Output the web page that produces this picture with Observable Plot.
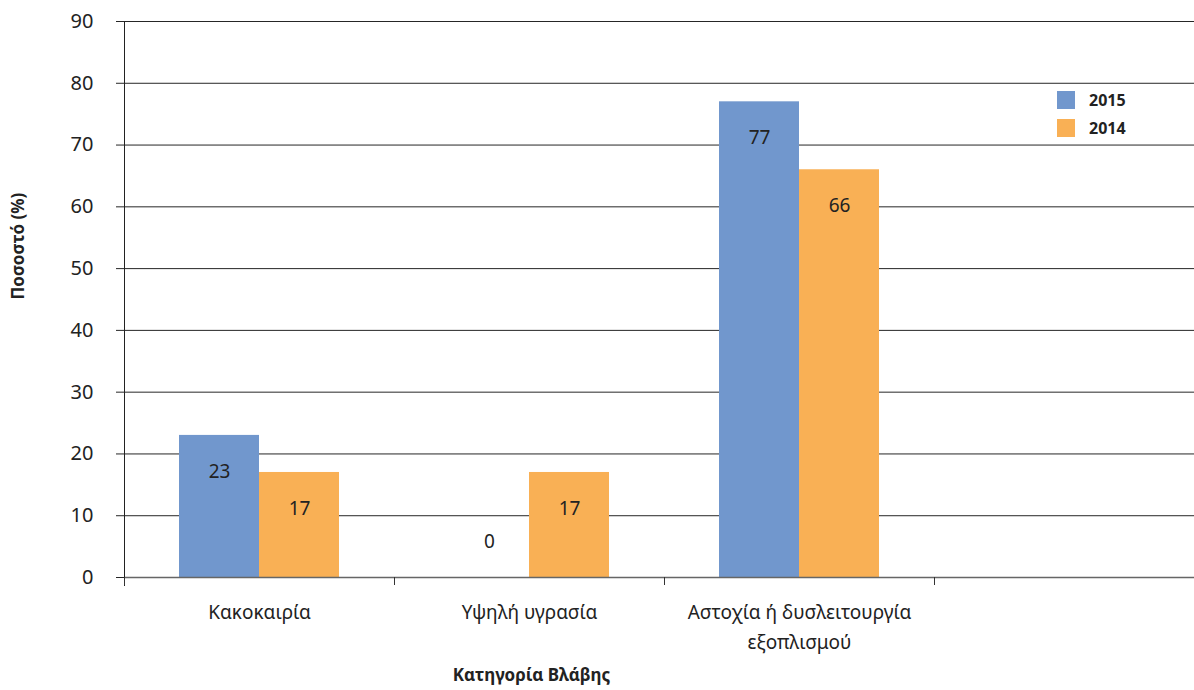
<!DOCTYPE html>
<html>
<head>
<meta charset="utf-8">
<script src="https://cdn.jsdelivr.net/npm/d3@7"></script>
<script src="https://cdn.jsdelivr.net/npm/@observablehq/plot@0.6"></script>
<style>
  html, body { margin: 0; padding: 0; background: #fff; }
  #wrap { position: relative; width: 1194px; height: 690px; font-family: "Noto Sans", sans-serif; }
  #legend { position: absolute; left: 1057px; top: 91px; font-weight: bold; font-size: 16px; color: #222; }
  #legend .item { display: flex; align-items: center; height: 18px; margin-bottom: 10px; }
  #legend .sw { width: 18px; height: 18px; margin-right: 14px; }
</style>
</head>
<body>
<div id="wrap"><div id="legend"></div></div>
<script>
const categories = ["Κακοκαιρία", "Υψηλή υγρασία", "Αστοχία ή δυσλειτουργία\nεξοπλισμού", ""];
const series = ["2015", "2014"];
const values2015 = [23, 0, 77];
const values2014 = [17, 17, 66];
const yTicks = [0, 10, 20, 30, 40, 50, 60, 70, 80, 90];
const colors = ["#7197CD", "#F9B055"];

const rows = [];
values2015.forEach((v, i) => rows.push({category: categories[i], series: "2015", value: v}));
values2014.forEach((v, i) => rows.push({category: categories[i], series: "2014", value: v}));

const W = 1194, H = 690;
const font = "Noto Sans, sans-serif";

const r15 = rows.filter(d => d.series === "2015");
const r14 = rows.filter(d => d.series === "2014");

const chart = Plot.plot({
  width: W,
  height: H,
  marginLeft: 124,
  marginRight: 0,
  marginTop: 21,
  marginBottom: 113,
  style: {fontFamily: font, background: "#fff", overflow: "visible"},
  x: {type: "band", domain: categories, range: [124, 1204], padding: 0},
  y: {domain: [0, 90]},
  marks: [
    Plot.ruleY(yTicks.filter(t => t > 0), {stroke: "#262626", strokeWidth: 1}),
    Plot.axisY({ticks: yTicks, tickSize: 8, tickPadding: 23, fontSize: 20, stroke: "#262626", fill: "#222", label: null}),
    Plot.barY(r15, {x: "category", y: "value", fill: colors[0], insetLeft: 55, insetRight: 135}),
    Plot.barY(r14, {x: "category", y: "value", fill: colors[1], insetLeft: 135, insetRight: 55}),
    Plot.ruleY([0], {stroke: "#666", strokeWidth: 1.5}),
    Plot.frame({anchor: "left", stroke: "#222", insetBottom: -8}),
    Plot.axisX({ticks: categories, tickSize: 8, dx: -135, text: null, stroke: "#333", label: null}),
    Plot.axisX({ticks: categories, tickSize: 0, tickPadding: 20, fontSize: 19, fill: "#222", lineHeight: 1.58, label: null}),
    Plot.text(r15.filter(d => d.value > 0), {x: "category", y: "value", text: d => String(d.value), dx: -40, dy: 36, fontSize: 19, fill: "#222"}),
    Plot.text(r14.filter(d => d.value > 0), {x: "category", y: "value", text: d => String(d.value), dx: 40, dy: 36, fontSize: 19, fill: "#222"}),
    Plot.text(r15.filter(d => d.value === 0), {x: "category", y: "value", text: d => String(d.value), dx: -40, dy: -36, fontSize: 19, fill: "#222"}),
    Plot.text(r14.filter(d => d.value === 0), {x: "category", y: "value", text: d => String(d.value), dx: 40, dy: -36, fontSize: 19, fill: "#222"}),
    Plot.text(["Ποσοστό (%)"], {frameAnchor: "left", text: d => d, rotate: -90, dx: -106, fontSize: 17, fontWeight: "bold", fill: "#222"}),
    Plot.text(["Κατηγορία Βλάβης"], {frameAnchor: "bottom", text: d => d, dx: -128, dy: 103, fontSize: 17, fontWeight: "bold", fill: "#222"})
  ]
});

const wrap = document.getElementById("wrap");
wrap.insertBefore(chart, wrap.firstChild);

const legend = document.getElementById("legend");
series.forEach((s, i) => {
  const item = document.createElement("div");
  item.className = "item";
  const sw = document.createElement("div");
  sw.className = "sw";
  sw.style.background = colors[i];
  const lab = document.createElement("span");
  lab.textContent = s;
  item.appendChild(sw);
  item.appendChild(lab);
  legend.appendChild(item);
});
</script>
</body>
</html>
